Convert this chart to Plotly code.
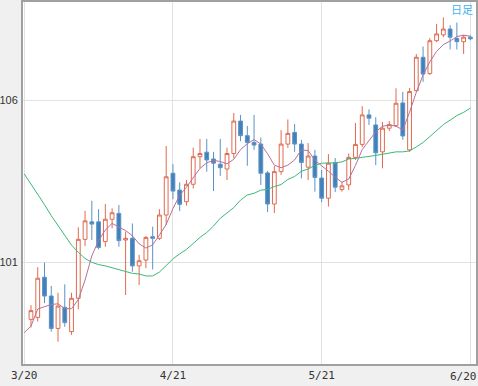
import plotly.graph_objects as go

# trading-day index (0 = 3/20)
day_idx = list(range(1, 67))
opens = [99.23, 99.29, 100.53, 99.95, 98.95, 99.60, 98.85, 99.88, 101.70, 102.24,
         102.24, 101.63, 102.32, 102.50, 101.68, 101.73, 100.88, 101.06, 101.78, 101.73,
         102.45, 103.74, 103.22, 102.86, 103.40, 104.25, 104.39, 104.18, 104.02, 103.87,
         104.35, 105.35, 104.90, 104.69, 104.64, 103.75, 102.79, 103.79, 104.64, 105.00,
         104.64, 103.93, 104.27, 103.59, 102.97, 104.06, 103.24, 103.38, 104.23, 104.63,
         105.54, 105.23, 104.40, 105.13, 105.21, 105.91, 104.46, 106.29, 107.32, 106.82,
         107.83, 108.01, 108.19, 107.90, 107.80, 107.94]
highs = [99.67, 100.84, 100.98, 100.26, 100.05, 100.31, 100.05, 102.07, 102.58, 102.89,
         102.63, 102.79, 102.66, 102.76, 101.94, 102.19, 101.22, 101.80, 102.09, 102.63,
         104.58, 104.02, 103.46, 103.53, 104.53, 104.80, 104.80, 104.40, 104.80, 104.53,
         105.60, 105.54, 105.20, 105.54, 104.84, 103.81, 103.96, 105.07, 105.40, 105.26,
         104.77, 104.67, 104.46, 103.84, 104.33, 104.21, 103.48, 104.35, 105.29, 105.81,
         105.71, 105.47, 105.32, 105.35, 106.36, 106.25, 106.37, 107.42, 107.65, 107.91,
         108.35, 108.55, 108.31, 108.39, 108.01, 107.99]
lows = [98.98, 99.16, 99.73, 98.85, 98.54, 99.00, 98.75, 99.54, 101.49, 101.68,
        101.39, 101.47, 102.04, 101.47, 99.98, 100.70, 100.29, 100.81, 100.77, 101.68,
        102.14, 102.94, 102.57, 102.74, 103.27, 103.89, 103.79, 103.19, 103.66, 103.53,
        104.20, 104.73, 103.97, 104.46, 103.38, 102.54, 102.51, 103.69, 104.52, 104.40,
        103.58, 103.53, 103.17, 102.85, 102.71, 103.16, 103.17, 103.22, 104.15, 104.55,
        105.23, 103.99, 103.89, 105.04, 105.17, 104.77, 104.40, 106.25, 106.56, 106.77,
        107.79, 107.94, 107.56, 107.56, 107.42, 107.85]
closes = [99.50, 100.50, 99.95, 98.95, 99.64, 99.13, 99.88, 101.70, 102.27, 102.17,
          101.45, 102.32, 102.52, 101.66, 101.73, 100.88, 101.04, 101.76, 101.73, 102.45,
          103.63, 103.19, 102.78, 103.40, 104.25, 104.35, 104.15, 104.05, 103.91, 104.35,
          105.35, 104.90, 104.69, 104.61, 103.74, 102.79, 103.79, 104.64, 104.97, 104.64,
          104.07, 104.27, 103.61, 102.97, 104.05, 103.31, 103.35, 104.23, 104.63, 105.54,
          105.44, 104.37, 105.13, 105.24, 105.90, 104.89, 106.26, 107.32, 106.80, 107.83,
          108.04, 108.19, 107.94, 107.80, 107.94, 107.89]

ma_idx = list(range(0, 67))
ma_short = [98.82, 99.02, 99.55, 99.61, 99.69, 99.71, 99.56, 99.56, 99.84, 100.44,
            101.19, 101.66, 101.99, 102.19, 102.08, 101.97, 101.81, 101.56, 101.43, 101.53,
            101.83, 102.16, 102.65, 103.06, 103.31, 103.62, 103.89, 104.06, 104.14, 104.10,
            104.03, 104.17, 104.47, 104.65, 104.78, 104.64, 104.34, 103.99, 103.91, 103.99,
            104.15, 104.46, 104.44, 104.14, 103.98, 103.80, 103.62, 103.46, 103.56, 103.98,
            104.47, 104.75, 105.02, 105.19, 105.23, 105.19, 105.08, 105.62, 106.24, 106.77,
            107.18, 107.50, 107.71, 107.82, 107.96, 108.00, 107.97]
ma_long = [103.72, 103.41, 103.11, 102.77, 102.43, 102.13, 101.83, 101.52, 101.30, 101.11,
           100.99, 100.92, 100.88, 100.82, 100.76, 100.69, 100.65, 100.63, 100.57, 100.57,
           100.69, 100.89, 101.10, 101.25, 101.39, 101.57, 101.76, 101.91, 102.11, 102.35,
           102.51, 102.68, 102.91, 103.07, 103.12, 103.22, 103.24, 103.33, 103.39, 103.55,
           103.64, 103.80, 103.87, 103.98, 104.05, 104.05, 104.06, 104.09, 104.18, 104.20,
           104.22, 104.26, 104.29, 104.32, 104.36, 104.40, 104.40, 104.43, 104.55, 104.69,
           104.87, 105.07, 105.24, 105.38, 105.52, 105.62, 105.75]

tick_pos = [0, 22, 44, 66]
tick_labels = ["3/20", "4/21", "5/21", "6/20"]
y_ticks = [101, 106]
period_label = "日足"

XFONT = "DejaVu Sans Mono"
YFONT = "Liberation Sans"

fig = go.Figure()
fig.add_trace(go.Scatter(x=ma_idx, y=ma_long, mode="lines",
                         line=dict(color="#3cb878", width=1), hoverinfo="skip"))
fig.add_trace(go.Candlestick(
    x=day_idx, open=opens, high=highs, low=lows, close=closes,
    increasing=dict(line=dict(color="#e06a4e", width=1), fillcolor="white"),
    decreasing=dict(line=dict(color="#5a92c6", width=1), fillcolor="#4080bb"),
    whiskerwidth=0, hoverinfo="skip"))
fig.add_trace(go.Scatter(x=ma_idx, y=ma_short, mode="lines",
                         line=dict(color="#b8709a", width=1), hoverinfo="skip"))

fig.update_layout(
    width=478, height=386,
    margin=dict(l=23, r=2, t=2, b=22, autoexpand=False),
    paper_bgcolor="#f0f0f0", plot_bgcolor="white",
    showlegend=False, boxgap=0.2,
    font=dict(family=XFONT, size=11, color="#333333"),
    annotations=[
        dict(text=period_label, xref="paper", yref="paper", x=1, y=1,
             xanchor="right", yanchor="top", xshift=-1, yshift=3, showarrow=False,
             font=dict(family="Noto Sans CJK JP", size=11, color="#3fb2ee")),
        dict(text=tick_labels[-1], xref="x", yref="paper", x=tick_pos[-1], y=0,
             xanchor="right", yanchor="top", xshift=9, yshift=-4, showarrow=False,
             font=dict(family=XFONT, size=11, color="#333333")),
    ],
)
fig.update_xaxes(
    range=[-0.18, 66.83], rangeslider=dict(visible=False), automargin=False,
    tickvals=tick_pos, ticktext=tick_labels[:-1] + [""],
    tickfont=dict(family=XFONT, size=11, color="#333333"),
    showgrid=True, gridcolor="#e2e2e2", gridwidth=1,
    showline=True, linecolor="#a0a0a0", linewidth=2, mirror=True,
    ticks="", zeroline=False, fixedrange=True)
fig.update_yaxes(
    range=[97.852, 109.025], automargin=False,
    tickvals=y_ticks, ticktext=[str(v) for v in y_ticks],
    tickfont=dict(family=YFONT, size=11, color="#333333"),
    showgrid=True, gridcolor="#e2e2e2", gridwidth=1,
    showline=True, linecolor="#a0a0a0", linewidth=2, mirror=True,
    ticks="", zeroline=False, ticklabelstandoff=1, fixedrange=True)

fig.write_html("out.html", config={"displayModeBar": False},
               post_script="document.body.style.margin='0px';")
